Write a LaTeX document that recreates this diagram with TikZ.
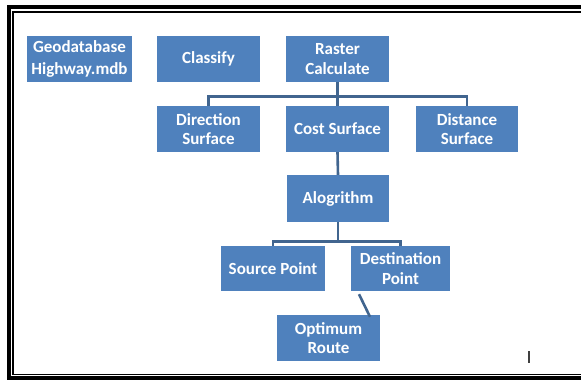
\documentclass[tikz,border=0pt]{standalone}
\usepackage{fontspec}
\setmainfont{Carlito}
\definecolor{boxblue}{HTML}{4F81BD}
\definecolor{lineblue}{HTML}{41658F}
\begin{document}
\begin{tikzpicture}[x=1pt,y=-1pt,
  blk/.style={fill=boxblue, draw=none, text=white, align=center, inner sep=0pt,
     minimum height=46pt, font=\bfseries\fontsize{17}{19.5}\selectfont},
  conn/.style={draw=lineblue, line width=2.6pt}]
\useasboundingbox (0,0) rectangle (581,380);
\fill[white] (0,0) rectangle (581,380);
% frame
\draw[line width=3.8pt] (590,7) -- (8.6,7) -- (8.6,377.8) -- (590,377.8);
\draw[line width=1.4pt] (590,11.8) -- (12.8,11.8) -- (12.8,374.6) -- (590,374.6);
% boxes
\node[blk, minimum width=105pt] (geo) at (79.5,59) {Geodatabase\\[3pt]Highway.mdb};
\node[blk, minimum width=103pt] (classify) at (208.5,59) {Classify};
\node[blk, minimum width=103pt] (raster) at (337.5,59) {Raster\\Calculate};
\node[blk, minimum width=103pt] (direction) at (208.5,129) {Direction\\Surface};
\node[blk, minimum width=103pt] (cost) at (337.5,129) {Cost Surface};
\node[blk, minimum width=102pt] (distance) at (467,129) {Distance\\Surface};
\node[blk, minimum width=102pt, minimum height=47pt] (algo) at (338,198.5) {Alogrithm};
\node[blk, minimum width=104pt, minimum height=45pt] (source) at (273,268.5) {Source Point};
\node[blk, minimum width=99pt, minimum height=45pt] (dest) at (400.5,268.5) {Destination\\Point};
\node[blk, minimum width=103pt] (optimum) at (328.5,338) {Optimum\\Route};
% connectors
\coordinate (bar1) at (337.5,96.5);
\coordinate (bar2) at (338,241.5);
\draw[conn] (direction.north) |- (bar1) -| (distance.north);
\draw[conn] (raster.south) -- (cost.north);
\draw[conn] (cost.south) -- (algo.north);
\draw[conn] (algo.south) -- (bar2);
\draw[conn] (source.north) |- (bar2) -| (dest.north);
\draw[conn] ([xshift=-41.5pt,yshift=-3pt]dest.south) -- ([xshift=41.5pt,yshift=-2pt]optimum.north);
% small mark
\coordinate (m1) at (529,351);
\coordinate (m2) at (529,363);
\draw[line width=2pt, black!75] (m1) -- (m2);
\end{tikzpicture}
\end{document}
